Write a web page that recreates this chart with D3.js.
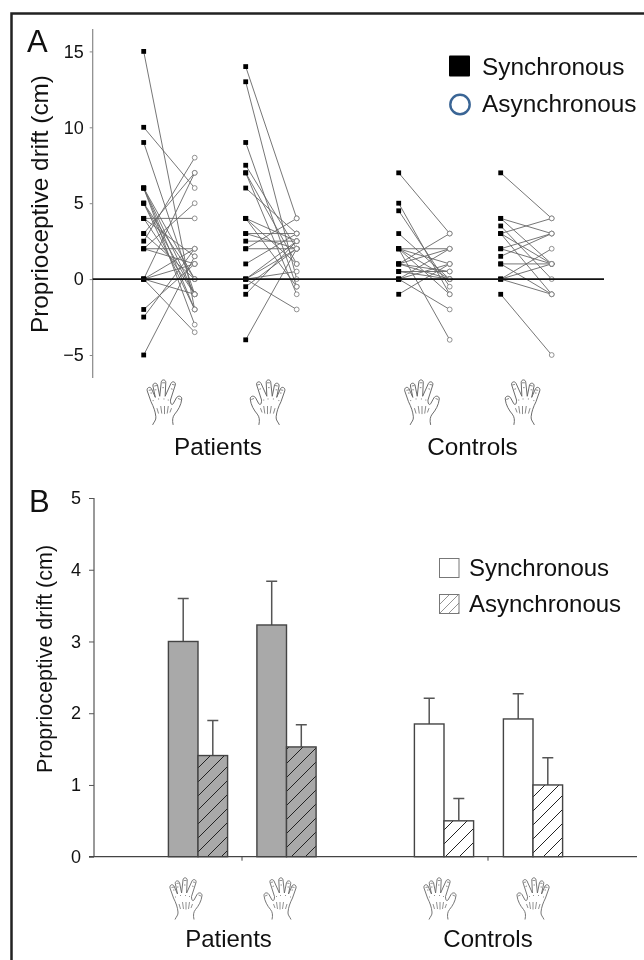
<!DOCTYPE html>
<html>
<head>
<meta charset="utf-8">
<script src="https://cdnjs.cloudflare.com/ajax/libs/d3/7.8.5/d3.min.js"></script>
<style>
html, body { margin: 0; padding: 0; background: #fff; }
svg { display: block; filter: blur(0.3px); }
text { font-family: "Liberation Sans", Arial, sans-serif; fill: #111; }
</style>
</head>
<body>
<svg id="chart" width="644" height="960"></svg>
<script>
// panel A: paired drift values [synchronous, asynchronous], one list per column pair
var patientsA = [[15,-2],[10,6],[9,-1],[6,-3],[6,-2],[6,-1],[6,0],[5,-2],[5,-1],[5,0],[4,4],[4,1.5],[4,-1],
    [3,7],[3,0],[2.5,8],[2,5],[2,2],[2,1],[0,7],[0,2],[0,1],[0,-1],[0,-3.5],[-2,1],[-2.5,2],[-5,1.5]];
var patientsB = [[14,4],[13,0],[9,-0.5],[7.5,2],[7,-1],[7,1],[6,3],[4,2.5],[4,1],[4,-0.5],[3,3],[3,2],[2.5,2.5],
    [2,4],[2,2],[1,3],[0,2.5],[0,2],[0,0.5],[0,-2],[-0.5,2],[-1,2.5],[-4,2]];
var controlsA = [[7,3],[5,-1],[4.5,-0.5],[3,0],[2,-4],[2,2],[2,1],[2,0],[2,-1],[1,3],[1,2],[1,0.5],[1,0],
    [0.5,0.5],[0.5,0],[0,1],[0,2],[0,0],[0,-2],[-1,1]];
var controlsB = [[7,4],[4,3],[4,1],[3.5,0],[3,4],[3,1],[3,-1],[2,3],[2,1],[1.5,3],[1,1],[1,-1],[0,2],[0,1],[0,-1],[-1,-5]];

// panel B: means and top of the error bars
var barGroups = ['P1', 'P2', 'C1', 'C2'];
var syncMeans = [3.0, 3.23, 1.85, 1.92];
var syncErrTop = [3.6, 3.84, 2.21, 2.27];
var asyncMeans = [1.41, 1.53, 0.5, 1.0];
var asyncErrTop = [1.9, 1.84, 0.81, 1.38];

var ticksA = [-5, 0, 5, 10, 15];
var ticksB = [0, 1, 2, 3, 4, 5];
var yLabel = 'Proprioceptive drift (cm)';
var groupLabels = ['Patients', 'Controls'];
var legendLabels = ['Synchronous', 'Asynchronous'];

var svg = d3.select('#chart');

// hatch patterns
var defs = svg.append('defs');
function addHatch(id, bg, line, w) {
    var p = defs.append('pattern').attr('id', id).attr('patternUnits', 'userSpaceOnUse')
        .attr('width', 14).attr('height', 14);
    p.append('rect').attr('width', 14).attr('height', 14).attr('fill', bg);
    p.append('path').attr('d', 'M-3,3L3,-3M0,14L14,0M11,17L17,11')
        .attr('stroke', line).attr('stroke-width', w).attr('fill', 'none');
}
addHatch('hatchGray', '#a9a9a9', '#222', 1);
addHatch('hatchWhite', '#fff', '#222', 1);
var pl = defs.append('pattern').attr('id', 'hatchLegend').attr('patternUnits', 'userSpaceOnUse')
    .attr('width', 9).attr('height', 9);
pl.append('rect').attr('width', 9).attr('height', 9).attr('fill', '#fff');
pl.append('path').attr('d', 'M-2,2L2,-2M0,9L9,0M7,11L11,7').attr('stroke', '#888').attr('stroke-width', 0.9);

// frame, only the top and left sides show in the picture
svg.append('path').attr('d', 'M11.5,960V13.5H644')
    .attr('fill', 'none').attr('stroke', '#222').attr('stroke-width', 2.5);

// hand icon, thumb on the right
var handOutline = 'M6,42.5C7,40 9.5,38 9,35C8.5,30 7,26 4.5,21L1,11C0.3,8 3.5,6.5 5,9L8.5,17L6.3,6.5C6,3.5 9.5,3 10.5,5.5L12.6,16' +
    'L14,3C14.3,0 18,0.2 18.2,3L17.6,16L23,4C24.3,1.4 27.8,2.8 27,5.5L22.5,19.5C22.5,23 23.5,24.5 25,23L28,17.5C29.5,15 33,15.5 33,18.5' +
    'C32.5,24 29.5,29 26.5,32.5C24.5,35 24,38 25,42.5';
var handDetail = 'M10,27L11.5,32M13.5,25L14.5,32M17,25L17,32.5M20.5,25L19.5,32M23.5,27L22,31' +
    'M2.5,10.5L5,10M7.5,6.5L10,6M14.8,3.5L17.5,3.5M24,5L26.5,5.5M29.5,18L32,19M4,13L5.5,13M8,10L9.5,10M15,8L16.5,8M23,9L24.5,9.5' +
    'M6,20L7,20M11,18.5L12,18.5M16,18.5L17,18.5M20,19.5L21,19.5';
function drawHand(cx, top, flip, size) {
    var g = svg.append('g').attr('transform', 'translate(' + cx + ',' + top + ') scale(' + (flip ? -size : size) + ',' + size + ') translate(-17,0)');
    g.append('path').attr('d', handOutline).attr('fill', 'none').attr('stroke', '#666').attr('stroke-width', 0.9);
    g.append('path').attr('d', handDetail).attr('fill', 'none').attr('stroke', '#777').attr('stroke-width', 0.8);
}

// ---- panel A ----
var yA = d3.scaleLinear().domain([-5, 15]).range([355, 51.4]);
var columnsA = [patientsA, patientsB, controlsA, controlsB];
var pairSlots = [[0, 1], [2, 3], [5, 6], [7, 8]]; // x slot of sync/async

var xSlot = d3.scaleLinear().domain([0, 8]).range([143.7, 551.7]);

svg.append('g').attr('transform', 'translate(92.7,0)')
    .call(d3.axisLeft(yA).tickValues(ticksA).tickSize(3).tickPadding(6).tickFormat(function (d) {
        return d < 0 ? '\u2212' + Math.abs(d) : d;
    }))
    .call(function (g) {
        g.select('.domain').attr('d', 'M0,29V378').attr('stroke', '#888').attr('stroke-width', 1.2);
        g.selectAll('line').attr('stroke', '#888');
        g.selectAll('text').style('font-size', '18px').attr('font-family', null);
    });

columnsA.forEach(function (pairs, c) {
    var x0 = xSlot(pairSlots[c][0]), x1 = xSlot(pairSlots[c][1]);
    var g = svg.append('g');
    g.selectAll('line').data(pairs).enter().append('line')
        .attr('x1', x0).attr('x2', x1)
        .attr('y1', function (d) { return yA(d[0]); })
        .attr('y2', function (d) { return yA(d[1]); })
        .attr('stroke', '#666').attr('stroke-width', 0.9);
    g.selectAll('rect').data(pairs).enter().append('rect')
        .attr('x', x0 - 2.4).attr('width', 4.8).attr('height', 4.8)
        .attr('y', function (d) { return yA(d[0]) - 2.4; })
        .attr('fill', '#000');
    g.selectAll('circle').data(pairs).enter().append('circle')
        .attr('cx', x1).attr('r', 2.4)
        .attr('cy', function (d) { return yA(d[1]); })
        .attr('fill', '#fff').attr('stroke', '#777').attr('stroke-width', 0.8);
});

svg.append('line').attr('x1', 92.7).attr('x2', 604).attr('y1', yA(0)).attr('y2', yA(0))
    .attr('stroke', '#111').attr('stroke-width', 1.8);

svg.append('text').attr('x', 27).attr('y', 52).style('font-size', '31px').text('A');
svg.append('text').attr('transform', 'translate(48,204) rotate(-90)').attr('text-anchor', 'middle')
    .style('font-size', '24.3px').text(yLabel);

svg.append('rect').attr('x', 449).attr('y', 55.5).attr('width', 21).attr('height', 21).attr('rx', 1).attr('fill', '#000');
svg.append('circle').attr('cx', 460).attr('cy', 104.5).attr('r', 9.7)
    .attr('fill', '#fff').attr('stroke', '#3a6595').attr('stroke-width', 2.4);
svg.append('text').attr('x', 482).attr('y', 75).style('font-size', '24.4px').text(legendLabels[0]);
svg.append('text').attr('x', 482).attr('y', 112).style('font-size', '24.4px').text(legendLabels[1]);

drawHand(164.5, 379, false, 1.08);
drawHand(267.5, 379, true, 1.08);
drawHand(422, 379, false, 1.08);
drawHand(522.5, 379, true, 1.08);
svg.append('text').attr('x', 218).attr('y', 455).attr('text-anchor', 'middle').style('font-size', '24.3px').text(groupLabels[0]);
svg.append('text').attr('x', 472.5).attr('y', 455).attr('text-anchor', 'middle').style('font-size', '24.3px').text(groupLabels[1]);

// ---- panel B ----
var yB = d3.scaleLinear().domain([0, 5]).range([856.7, 498]);
var xB = d3.scaleOrdinal().domain(barGroups).range([198, 286.5, 444, 533]);
var barW = 29.6;

svg.append('g').attr('transform', 'translate(94,0)')
    .call(d3.axisLeft(yB).tickValues(ticksB).tickSize(5).tickPadding(8).tickFormat(d3.format('d')))
    .call(function (g) {
        g.select('.domain').attr('d', 'M0,498V856.7').attr('stroke', '#555').attr('stroke-width', 1.2);
        g.selectAll('line').attr('stroke', '#555');
        g.selectAll('text').style('font-size', '18px').attr('font-family', null);
    });

svg.append('line').attr('x1', 89).attr('x2', 637).attr('y1', yB(0)).attr('y2', yB(0))
    .attr('stroke', '#444').attr('stroke-width', 1.2);
[242, 488].forEach(function (t) {
    svg.append('line').attr('x1', t).attr('x2', t).attr('y1', yB(0)).attr('y2', yB(0) + 4)
        .attr('stroke', '#444').attr('stroke-width', 1);
});

function drawBars(means, tops, side) {
    var g = svg.append('g');
    var cx = function (d, i) { return xB(barGroups[i]) + side * barW / 2; };
    g.selectAll('path').data(means).enter().append('path')
        .attr('d', function (d, i) {
            return 'M' + cx(d, i) + ',' + yB(d) + 'V' + yB(tops[i]) + 'm-5.5,0h11';
        })
        .attr('fill', 'none').attr('stroke', '#555').attr('stroke-width', 1.5);
    g.selectAll('rect').data(means).enter().append('rect')
        .attr('x', function (d, i) { return cx(d, i) - barW / 2; })
        .attr('width', barW)
        .attr('y', function (d) { return yB(d); })
        .attr('height', function (d) { return yB(0) - yB(d); })
        .attr('fill', function (d, i) {
            if (side < 0) return i < 2 ? '#a9a9a9' : '#fff';
            return i < 2 ? 'url(#hatchGray)' : 'url(#hatchWhite)';
        })
        .attr('stroke', '#444').attr('stroke-width', 1.4);
}
drawBars(syncMeans, syncErrTop, -1);
drawBars(asyncMeans, asyncErrTop, 1);

svg.append('text').attr('x', 29).attr('y', 512).style('font-size', '31px').text('B');
svg.append('text').attr('transform', 'translate(52,659) rotate(-90)').attr('text-anchor', 'middle')
    .style('font-size', '21.5px').text(yLabel);

svg.append('rect').attr('x', 439.5).attr('y', 558.5).attr('width', 19.5).attr('height', 19)
    .attr('fill', '#fff').attr('stroke', '#777').attr('stroke-width', 1);
svg.append('rect').attr('x', 439.5).attr('y', 594.5).attr('width', 19.5).attr('height', 19)
    .attr('fill', 'url(#hatchLegend)').attr('stroke', '#777').attr('stroke-width', 1);
svg.append('text').attr('x', 469).attr('y', 576).style('font-size', '24px').text(legendLabels[0]);
svg.append('text').attr('x', 469).attr('y', 612).style('font-size', '24px').text(legendLabels[1]);

drawHand(186, 877, false, 1);
drawHand(280, 877, true, 1);
drawHand(440, 877, false, 1);
drawHand(533, 877, true, 1);
svg.append('text').attr('x', 228.5).attr('y', 947).attr('text-anchor', 'middle').style('font-size', '24px').text(groupLabels[0]);
svg.append('text').attr('x', 488).attr('y', 947).attr('text-anchor', 'middle').style('font-size', '24px').text(groupLabels[1]);
</script>
</body>
</html>
